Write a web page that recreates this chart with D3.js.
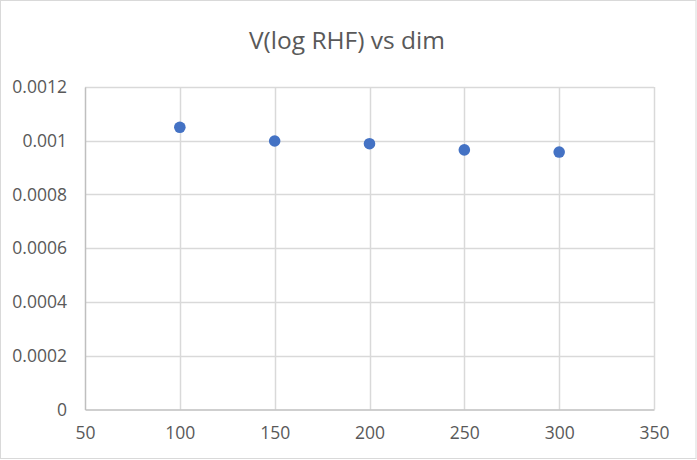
<!DOCTYPE html>
<html><head><meta charset="utf-8">
<script src="https://cdn.jsdelivr.net/npm/d3@7"></script>
<style>body{margin:0;background:#fff}svg{display:block}</style>
</head><body>
<script>
const title = "V(log RHF) vs dim";
const dims = [100, 150, 200, 250, 300];
const values = [0.00105, 0.000999, 0.000989, 0.000966, 0.000958];
const xTicks = [50, 100, 150, 200, 250, 300, 350];
const yTicks = [0, 0.0002, 0.0004, 0.0006, 0.0008, 0.001, 0.0012];
const yTickLabels = ["0", "0.0002", "0.0004", "0.0006", "0.0008", "0.001", "0.0012"];

const W = 697, H = 460;
const svg = d3.select("body").append("svg").attr("width", W).attr("height", H);
svg.append("rect").attr("x", 0.5).attr("y", 0.5).attr("width", W - 1.5).attr("height", H - 2)
  .attr("fill", "#fff").attr("stroke", "#d9d9d9");

const x = d3.scaleLinear().domain([50, 350]).range([85, 654]);
const y = d3.scaleLinear().domain([0, 0.0012]).range([409.5, 87]);
const font = "'Open Sans', sans-serif";

svg.append("text").attr("x", 347).attr("y", 48.5).attr("text-anchor", "middle")
  .attr("font-family", font).attr("font-size", 24.5).attr("fill", "#595959").text(title);

// gridlines
svg.append("g").selectAll("line").data(yTicks.slice(1)).join("line")
  .attr("x1", x(50)).attr("x2", x(350)).attr("y1", d => Math.round(y(d)) + 0.5).attr("y2", d => Math.round(y(d)) + 0.5)
  .attr("stroke", "#d9d9d9").attr("stroke-width", 1.5);
svg.append("g").selectAll("line").data(xTicks.slice(1)).join("line")
  .attr("y1", y(0)).attr("y2", y(0.0012)).attr("x1", d => Math.round(x(d)) + 0.5).attr("x2", d => Math.round(x(d)) + 0.5)
  .attr("stroke", "#d9d9d9").attr("stroke-width", 1.5);

// axes
const xAxis = d3.axisBottom(x).tickValues(xTicks).tickSize(0).tickPadding(17);
const gx = svg.append("g").attr("transform", `translate(0,${y(0)})`).call(xAxis);
gx.select(".domain").attr("stroke", "#bfbfbf").attr("stroke-width", 1.5);
gx.selectAll("text").attr("font-family", font).attr("font-size", 17.5).attr("fill", "#595959");

const yAxis = d3.axisLeft(y).tickValues(yTicks).tickFormat((d, i) => yTickLabels[i]).tickSize(0).tickPadding(18);
const gy = svg.append("g").attr("transform", `translate(${x(50)},0)`).call(yAxis);
gy.select(".domain").attr("stroke", "#bfbfbf").attr("stroke-width", 1.5);
gy.selectAll("text").attr("font-family", font).attr("font-size", 17.5).attr("fill", "#595959");

// points
svg.append("g").selectAll("circle").data(dims).join("circle")
  .attr("cx", d => x(d)).attr("cy", (d, i) => y(values[i])).attr("r", 5.8)
  .attr("fill", "#4472c4");
</script>
</body></html>
